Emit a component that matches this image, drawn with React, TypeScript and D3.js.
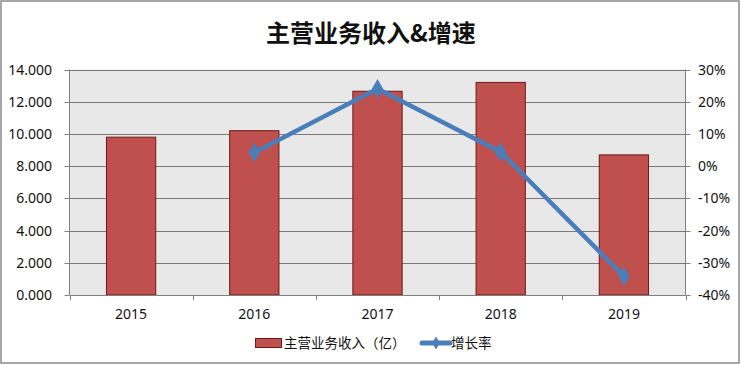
import { useEffect, useRef } from 'react';
import * as d3 from 'd3';

const years = ['2015', '2016', '2017', '2018', '2019'];
const revenue = [9800, 10200, 12650, 13200, 8700];
const growth: (number | null)[] = [null, 4.2, 24.0, 4.4, -34.2];
const leftTicks = [0, 2000, 4000, 6000, 8000, 10000, 12000, 14000];
const rightTicks = [-40, -30, -20, -10, 0, 10, 20, 30];

const W = 741;
const H = 365;
const font = '"Noto Sans CJK SC", "DejaVu Sans", sans-serif';
const numFont = '"Noto Sans", "DejaVu Sans", sans-serif';

export default function App() {
  const svgRef = useRef<SVGSVGElement>(null);

  useEffect(() => {
    if (!svgRef.current) return;
    const svg = d3.select(svgRef.current);
    svg.selectAll('*').remove();

    const left = 69.5, right = 685.5, top = 69.5, bottom = 295;

    // outer frame
    svg.append('rect')
      .attr('x', 1).attr('y', 1).attr('width', W - 3).attr('height', H - 3)
      .attr('fill', '#fff').attr('stroke', '#8a8a8a').attr('stroke-width', 1.5);

    svg.append('text')
      .attr('x', 371).attr('y', 42)
      .attr('text-anchor', 'middle')
      .attr('font-family', font).attr('font-weight', 'bold').attr('font-size', 24)
      .attr('fill', '#111')
      .text('主营业务收入&增速');

    const x = d3.scaleBand<string>().domain(years).range([left, right]);
    const y = d3.scaleLinear().domain([0, 14000]).range([bottom, top]);
    const y2 = d3.scaleLinear().domain([-40, 30]).range([bottom, top]);

    svg.append('rect')
      .attr('x', left).attr('y', top).attr('width', right - left).attr('height', bottom - top)
      .attr('fill', '#e8e8e8');

    // gridlines
    svg.append('g').selectAll('line').data(leftTicks.filter(t => t > 0)).join('line')
      .attr('x1', left).attr('x2', right)
      .attr('y1', d => Math.round(y(d)) + 0.5).attr('y2', d => Math.round(y(d)) + 0.5)
      .attr('stroke', '#7a7a7a').attr('stroke-width', 1);

    // bars
    const bw = x.bandwidth() * 0.4;
    svg.append('g').selectAll('rect').data(revenue).join('rect')
      .attr('x', (d, i) => x(years[i])! + (x.bandwidth() - bw) / 2)
      .attr('y', d => y(d))
      .attr('width', bw)
      .attr('height', d => bottom - y(d))
      .attr('fill', '#c0504d')
      .attr('stroke', '#6b1a18').attr('stroke-width', 1);

    // axes
    const axisColor = '#808080';
    const gl = svg.append('g');
    gl.append('line').attr('x1', left).attr('x2', left).attr('y1', top).attr('y2', bottom)
      .attr('stroke', axisColor);
    leftTicks.forEach(t => {
      const yy = Math.round(y(t)) + 0.5;
      gl.append('line').attr('x1', left - 5).attr('x2', left).attr('y1', yy).attr('y2', yy).attr('stroke', axisColor);
      gl.append('text').attr('x', 52).attr('y', yy).attr('dy', '0.35em')
        .attr('text-anchor', 'end').attr('font-family', numFont).attr('font-size', 14).attr('fill', '#111')
        .text(d3.format('.3f')(t / 1000));
    });

    const gr = svg.append('g');
    gr.append('line').attr('x1', right).attr('x2', right).attr('y1', top).attr('y2', bottom)
      .attr('stroke', axisColor);
    rightTicks.forEach(t => {
      const yy = Math.round(y2(t)) + 0.5;
      gr.append('line').attr('x1', right).attr('x2', right + 5).attr('y1', yy).attr('y2', yy).attr('stroke', axisColor);
      gr.append('text').attr('x', 698).attr('y', yy).attr('dy', '0.35em')
        .attr('text-anchor', 'start').attr('font-family', numFont).attr('font-size', 14).attr('fill', '#111')
        .text(`${t}%`);
    });

    const gb = svg.append('g');
    gb.append('line').attr('x1', left).attr('x2', right).attr('y1', bottom + 0.5).attr('y2', bottom + 0.5)
      .attr('stroke', axisColor);
    d3.range(years.length + 1).forEach(i => {
      const xx = Math.round(left + i * x.step()) + 0.5;
      gb.append('line').attr('x1', xx).attr('x2', xx).attr('y1', bottom).attr('y2', bottom + 5).attr('stroke', axisColor);
    });
    years.forEach(yr => {
      gb.append('text').attr('x', x(yr)! + x.bandwidth() / 2).attr('y', 314).attr('dy', '0.35em')
        .attr('text-anchor', 'middle').attr('font-family', numFont).attr('font-size', 14).attr('fill', '#111')
        .text(yr);
    });

    // growth line
    const pts = growth.map((g, i) => ({ g, i })).filter(d => d.g !== null) as { g: number; i: number }[];
    const line = d3.line<{ g: number; i: number }>()
      .x(d => x(years[d.i])! + x.bandwidth() / 2)
      .y(d => y2(d.g));
    svg.append('path').attr('d', line(pts)).attr('fill', 'none')
      .attr('stroke', '#4a7ebb').attr('stroke-width', 4.5).attr('stroke-linejoin', 'round');
    const diamond = d3.symbol().type(d3.symbolDiamond).size(110);
    svg.append('g').selectAll('path').data(pts).join('path')
      .attr('d', diamond)
      .attr('transform', d => `translate(${x(years[d.i])! + x.bandwidth() / 2},${y2(d.g)})`)
      .attr('fill', '#4a7ebb');

    // legend
    const lg = svg.append('g');
    lg.append('rect').attr('x', 255.5).attr('y', 338.5).attr('width', 26).attr('height', 9)
      .attr('fill', '#c0504d').attr('stroke', '#6b1a18');
    lg.append('text').attr('x', 284).attr('y', 343).attr('dy', '0.35em')
      .attr('font-family', font).attr('font-size', 13.5).attr('fill', '#111').text('主营业务收入（亿）');
    lg.append('line').attr('x1', 422).attr('x2', 450).attr('y1', 343).attr('y2', 343)
      .attr('stroke', '#4a7ebb').attr('stroke-width', 5).attr('stroke-linecap', 'round');
    lg.append('path').attr('d', d3.symbol().type(d3.symbolDiamond).size(50)).attr('transform', 'translate(436,343)')
      .attr('fill', '#4a7ebb');
    lg.append('text').attr('x', 451).attr('y', 343).attr('dy', '0.35em')
      .attr('font-family', font).attr('font-size', 13.5).attr('fill', '#111').text('增长率');
  }, []);

  return (
    <svg ref={svgRef} width={W} height={H} style={{ position: 'absolute', left: 0, top: 0 }} />
  );
}
